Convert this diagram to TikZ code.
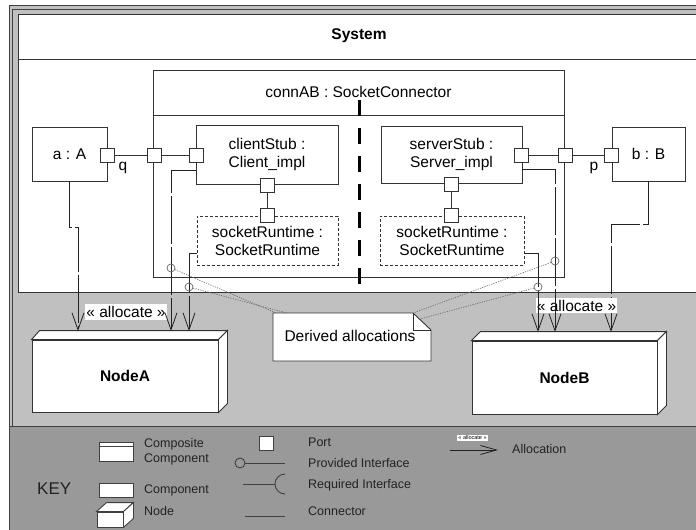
\documentclass[tikz,border=0pt]{standalone}
\usepackage{fontspec}
\setmainfont{Liberation Sans}
\usetikzlibrary{arrows.meta,calc}
\definecolor{lg}{HTML}{C0C0C0}
\definecolor{keyg}{HTML}{999999}
\definecolor{fr}{HTML}{404040}
\definecolor{linec}{HTML}{333333}
\definecolor{alc}{HTML}{222222}
\definecolor{dotc}{HTML}{666666}
\definecolor{keytext}{HTML}{222222}
\begin{document}
\begin{tikzpicture}[x=1pt,y=-1pt,
  every node/.style={font=\fontsize{15.5}{18}\selectfont},
  comp/.style={draw=linec, fill=white, line width=0.9pt, inner sep=0pt, align=center},
  shapeln/.style={draw=linec, fill=white, line width=0.9pt},
  portbox/.style={draw=linec, fill=white, line width=0.9pt, minimum size=14pt, inner sep=0pt},
  conn/.style={draw=linec, line width=0.9pt},
  alloc/.style={draw=alc, line width=0.8pt, dash pattern=on 48pt off 3pt, -{Straight Barb[length=17pt,width=12pt]}},
  lbl/.style={fill=white, inner xsep=1pt, inner ysep=2pt},
  circ/.style={circle, draw=dotc, line width=0.7pt, minimum size=8pt, inner sep=0pt},
  dotl/.style={draw=dotc, line width=0.6pt, dash pattern=on 1.2pt off 1.2pt},
  keytxt/.style={font=\fontsize{12.5}{14}\selectfont, text=keytext, anchor=west, inner sep=0pt},
  divider/.style={line width=2.6pt, dash pattern=on 16pt off 12pt}
]
\clip (0,0) rectangle (696,530);
% ---------- frames ----------
\fill[white] (0,0) rectangle (696,530);
\filldraw[fill=lg, draw=fr, line width=1pt] (9.5,5.5) rectangle (720,545);
\draw[fr, line width=1pt] (12.5,9.5) rectangle (720,426);
\fill[keyg] (10,426) rectangle (720,545);
\draw[fr, line width=1pt] (9.5,426) -- (720,426);
\draw[fr, line width=1pt] (9.5,420) -- (9.5,545);
% System
\filldraw[fill=white, draw=linec, line width=1pt] (18.5,14.5) rectangle (720,292);
\draw[linec, line width=1pt] (18.5,59) -- (720,59);
\node[font=\fontsize{15.5}{18}\selectfont\bfseries] (system) at (359,36) {System};
% ---------- connAB ----------
\node[comp, minimum width=411pt, minimum height=207pt] (connAB) at (358.5,173.5) {};
\draw[linec, line width=0.9pt] (connAB.west |- 0,115) -- (connAB.east |- 0,115);
\node (connABlbl) at (358.5,92) {connAB : SocketConnector};
\draw[divider] (359.5,100) -- (359.5,284);
% ---------- components ----------
\node[comp, minimum width=75pt, minimum height=54pt] (a) at (69.5,154) {a : A};
\node[comp, minimum width=142pt, minimum height=59pt] (cs) at (267,154.5) {clientStub :\\Client\_impl};
\node[comp, dash pattern=on 3pt off 2pt, minimum width=141pt, minimum height=49pt] (srL) at (267.5,240.5) {socketRuntime :\\SocketRuntime};
\node[comp, minimum width=141pt, minimum height=57pt] (ss) at (451.5,154.5) {serverStub :\\Server\_impl};
\node[comp, dash pattern=on 3pt off 2pt, minimum width=144pt, minimum height=49pt] (srR) at (452,240.5) {socketRuntime :\\SocketRuntime};
\node[comp, minimum width=73pt, minimum height=54pt] (b) at (648.5,154) {b : B};
% ports
\node[portbox] (q) at (107,155) {};
\node[portbox] (connL) at (154,155) {};
\node[portbox] (csL) at (196,155) {};
\node[portbox] (csB) at (267.5,185) {};
\node[portbox] (srLT) at (267.5,215.5) {};
\node[portbox] (ssR) at (521.5,155) {};
\node[portbox] (connR) at (565,155) {};
\node[portbox] (bP) at (611.5,155) {};
\node[portbox] (ssB) at (451.5,184) {};
\node[portbox] (srRT) at (451.5,215.5) {};
\node (qlbl) at (123,168) {q};
\node (plbl) at (594,168) {p};
% connectors
\draw[conn] (q) -- (connL) -- (csL);
\draw[conn] (csB) -- (srLT);
\draw[conn] (ssR) -- (connR) -- (bP);
\draw[conn] (ssB) -- (srRT);
% ---------- hardware nodes ----------
\node[comp, minimum width=186pt, minimum height=72pt, font=\fontsize{15.5}{18}\selectfont\bfseries] (nodeA) at (125,376) {NodeA};
\filldraw[shapeln] (nodeA.north west) -- ++(8,-9) -- ($(nodeA.north east)+(9,-9)$) -- (nodeA.north east) -- cycle;
\filldraw[shapeln] (nodeA.north east) -- ++(9,-9) -- ($(nodeA.south east)+(9,-9)$) -- (nodeA.south east) -- cycle;
\node[comp, minimum width=185pt, minimum height=73pt, font=\fontsize{15.5}{18}\selectfont\bfseries] (nodeB) at (564.5,377.5) {NodeB};
\filldraw[shapeln] (nodeB.north west) -- ++(9,-9) -- ($(nodeB.north east)+(9,-9)$) -- (nodeB.north east) -- cycle;
\filldraw[shapeln] (nodeB.north east) -- ++(9,-9) -- ($(nodeB.south east)+(9,-9)$) -- (nodeB.south east) -- cycle;
\coordinate (tA1) at (78,331);
\coordinate (tA2) at (171,331);
\coordinate (tA3) at (189,331);
\coordinate (tB1) at (538,332);
\coordinate (tB2) at (555,332);
\coordinate (tB3) at (611,332);
% ---------- note ----------
\filldraw[shapeln] (273,313) -- (413,313) -- (431,330) -- (431,361) -- (273,361) -- cycle;
\draw[linec, line width=0.9pt] (413,313) -- (413,330) -- (431,330);
\node (note) at (350,336) {Derived allocations};
\coordinate (n1) at (276,313);
\coordinate (n2) at (287,313);
\coordinate (n3) at (413,313);
\coordinate (n4) at (420,319);
% ---------- allocations ----------
\draw[alloc] (a.south) |- (78,227) -- (tA1);
\node[lbl] (allocL) at (126,312) {« allocate »};
\draw[alloc] (cs.west |- 0,170) -- (171,170) -- (tA2);
\draw[alloc] (srL.west |- 0,253) -- (189,253) -- (tA3);
\draw[alloc] (b.south) |- (611,224) -- (tB3);
\node[lbl] (allocR) at (576.5,305.5) {« allocate »};
\draw[alloc] (ss.east |- 0,169) -- (555,169) -- (tB2);
\draw[alloc] (srR.east |- 0,253) -- (538,253) -- (tB1);
% derived allocation markers
\node[circ] (c1) at (171,268) {};
\node[circ] (c2) at (189,287) {};
\node[circ] (c3) at (555,261) {};
\node[circ] (c4) at (538,287) {};
\draw[dotl] (c1) -- (n1);
\draw[dotl] (c2) -- (n2);
\draw[dotl] (c3) -- (n3);
\draw[dotl] (c4) -- (n4);
% ---------- KEY ----------
\node[font=\fontsize{17}{20}\selectfont, text=keytext, anchor=west, inner sep=0pt] (key) at (37,489) {KEY};
\node[comp, draw=fr, minimum width=34pt, minimum height=19pt] (kcomp) at (116,451.5) {};
\draw[fr, line width=0.9pt] (kcomp.west |- 0,446) -- (kcomp.east |- 0,446);
\node[keytxt] (kcomptxt1) at (144,444) {Composite};
\node[keytxt] (kcomptxt2) at (144,459.5) {Component};
\node[comp, draw=fr, minimum width=34pt, minimum height=14pt] (kcomp2) at (116,490) {};
\node[keytxt] (kcomp2txt) at (144,490) {Component};
\node[comp, draw=fr, minimum width=26pt, minimum height=15pt] (knode) at (110,519.5) {};
\filldraw[shapeln, draw=fr] (knode.north west) -- ++(10,-9) -- ($(knode.north east)+(10,-9)$) -- (knode.north east) -- cycle;
\filldraw[shapeln, draw=fr] (knode.north east) -- ++(10,-9) -- ($(knode.south east)+(10,-9)$) -- (knode.south east) -- cycle;
\node[keytxt] (knodetxt) at (144,511) {Node};
\node[portbox, draw=fr] (kport) at (266,443.5) {};
\node[keytxt] (kporttxt) at (308,442) {Port};
\node[circle, draw=fr, line width=0.9pt, minimum size=10pt, inner sep=0pt] (kprov) at (240,463) {};
\coordinate (kprovend) at (285,463);
\draw[fr, line width=0.9pt] (kprov) -- (kprovend);
\node[keytxt] (kprovtxt) at (308,463) {Provided Interface};
\coordinate (kreqs) at (243,484);
\coordinate (kreqe) at (275,484);
\draw[fr, line width=0.9pt] (kreqs) -- (kreqe);
\draw[fr, line width=0.9pt] (285,474) arc[start angle=90, end angle=270, radius=10pt];
\node[keytxt] (kreqtxt) at (308,485) {Required Interface};
\coordinate (kcs) at (245,516);
\coordinate (kce) at (285,516);
\draw[fr, line width=0.9pt] (kcs) -- (kce);
\node[keytxt] (kctxt) at (308,511) {Connector};
\node[fill=white, inner xsep=1pt, inner ysep=1pt, font=\fontsize{5.5}{6}\selectfont] (kalloclbl) at (472.5,438) {« allocate »};
\coordinate (kas) at (450,450);
\coordinate (kae) at (498,450);
\draw[alc, line width=0.8pt, -{Straight Barb[length=16pt,width=9pt]}] (kas) -- (kae);
\node[keytxt] (kalloctxt) at (512,449) {Allocation};
\end{tikzpicture}
\end{document}
